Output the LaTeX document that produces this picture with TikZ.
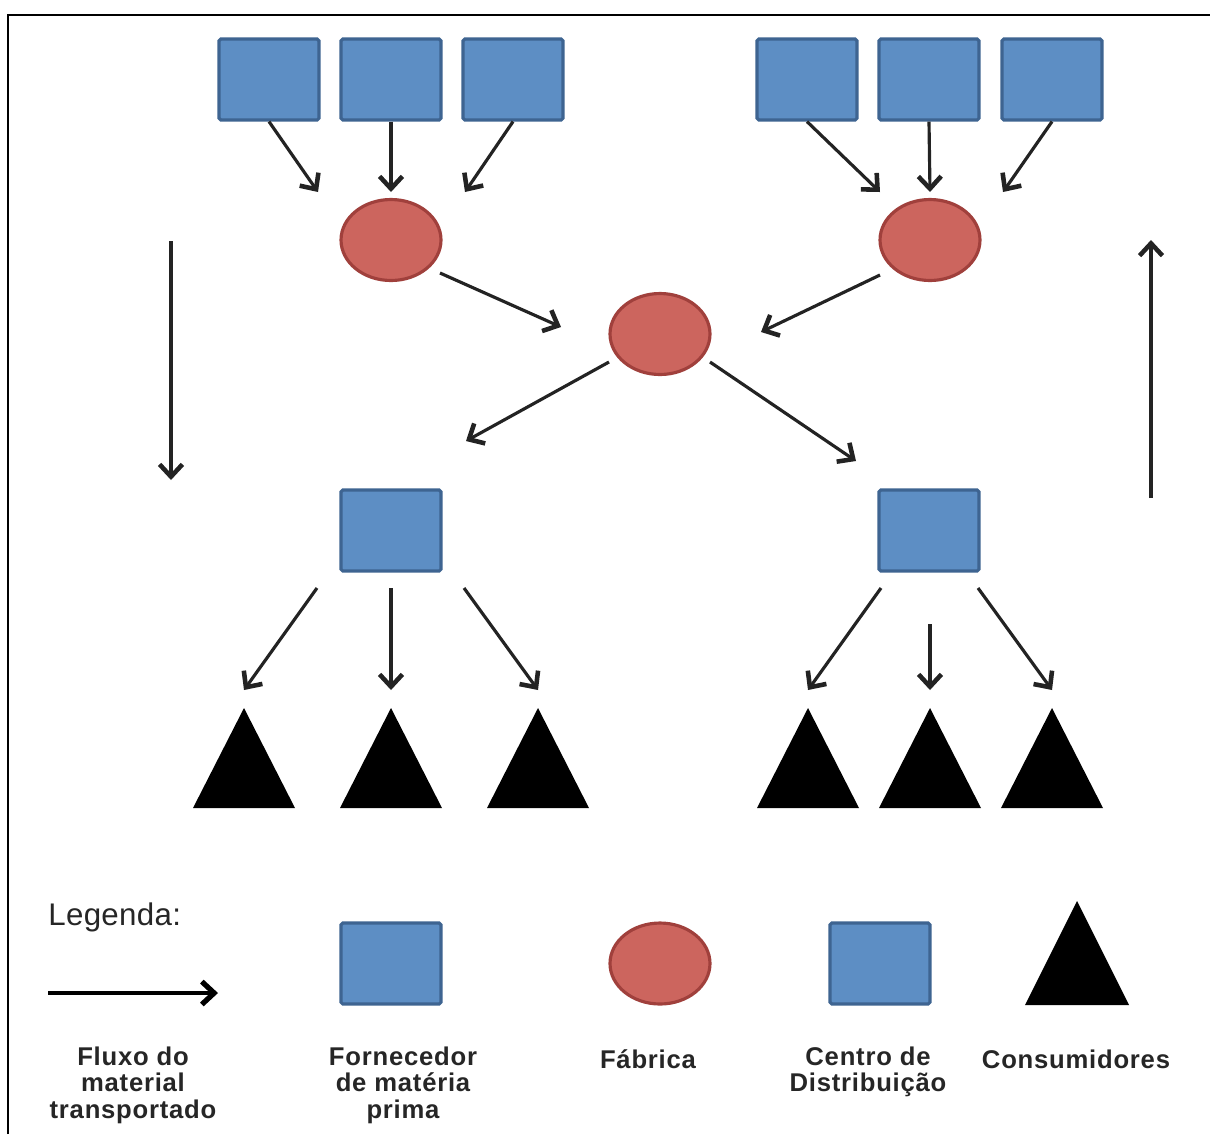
\documentclass[tikz,border=0pt]{standalone}
\usepackage{fontspec}
\setmainfont{Liberation Sans}
\usetikzlibrary{arrows.meta,shapes.geometric}
\definecolor{boxfill}{RGB}{93,142,196}
\definecolor{boxline}{RGB}{62,100,145}
\definecolor{plantfill}{RGB}{204,101,94}
\definecolor{plantline}{RGB}{160,64,60}
\definecolor{flow}{RGB}{35,35,35}
\begin{document}
\begin{tikzpicture}[x=0.02cm,y=-0.02cm,
  supplier/.style={draw=boxline,fill=boxfill,line width=1.8pt,rounded corners=1pt,
    minimum width=2.0cm,minimum height=1.62cm,inner sep=0pt},
  plant/.style={ellipse,draw=plantline,fill=plantfill,line width=1.8pt,
    minimum width=2.0cm,minimum height=1.62cm,inner sep=0pt},
  flowarrow/.style={draw=flow,line width=1.8pt,
    -{Straight Barb[length=7pt,width=13pt,line width=2.6pt]}},
  legtext/.style={font=\bfseries\fontsize{14.6}{15}\selectfont\addfontfeatures{LetterSpace=3},
    align=center,text=black!85}]
\useasboundingbox (0,0) rectangle (1210,1134);
% frame
\draw[line width=1.1pt] (8,1134) -- (8,15) -- (1210,15);

% raw material suppliers
\node[supplier] (s1) at (269,79.5) {};
\node[supplier] (s2) at (391,79.5) {};
\node[supplier] (s3) at (513,79.5) {};
\node[supplier] (s4) at (807,79.5) {};
\node[supplier] (s5) at (929,79.5) {};
\node[supplier] (s6) at (1052,79.5) {};

% plants
\node[plant] (p1) at (391,240) {};
\node[plant] (p2) at (930,240) {};
\node[plant] (p3) at (660,334) {};

% distribution centres
\node[supplier] (d1) at (391,530.5) {};
\node[supplier] (d2) at (929,530.5) {};

% consumers
\foreach \i/\cx in {1/244,2/391,3/538,4/808,5/930,6/1052}{
  \fill[black] (\cx-51,808) -- (\cx,708) -- (\cx+51,808) -- cycle;
  \coordinate (c\i) at (\cx,690);
}

% arrow ends
\coordinate (a1) at (318,192);
\coordinate (a2) at (391,192);
\coordinate (a3) at (465,192);
\coordinate (a4) at (880,192);
\coordinate (a5) at (930,192);
\coordinate (a6) at (1003,192);
\coordinate (p1o) at (440,273);
\coordinate (p1i) at (561,327);
\coordinate (p2o) at (880,275);
\coordinate (p2i) at (761,332);
\coordinate (p3l) at (609,362);
\coordinate (p3r) at (710,362);
\coordinate (d1i) at (466,441);
\coordinate (d2i) at (856,461);
\coordinate (d1a) at (317,588);
\coordinate (d1b) at (391,588);
\coordinate (d1c) at (464,588);
\coordinate (d2a) at (881,588);
\coordinate (d2b) at (930,624);
\coordinate (d2c) at (978,588);
\coordinate (downtop) at (171,241);
\coordinate (downbot) at (171,480);
\coordinate (upbot) at (1151,498);
\coordinate (uptop) at (1151,240);

% flows
\draw[flowarrow] (s1.south) -- (a1);
\draw[flowarrow] (s2.south) -- (a2);
\draw[flowarrow] (s3.south) -- (a3);
\draw[flowarrow] (s4.south) -- (a4);
\draw[flowarrow] (s5.south) -- (a5);
\draw[flowarrow] (s6.south) -- (a6);
\draw[flowarrow] (p1o) -- (p1i);
\draw[flowarrow] (p2o) -- (p2i);
\draw[flowarrow] (p3l) -- (d1i);
\draw[flowarrow] (p3r) -- (d2i);
\draw[flowarrow] (d1a) -- (c1);
\draw[flowarrow] (d1b) -- (c2);
\draw[flowarrow] (d1c) -- (c3);
\draw[flowarrow] (d2a) -- (c4);
\draw[flowarrow] (d2b) -- (c5);
\draw[flowarrow] (d2c) -- (c6);
\draw[flowarrow] (downtop) -- (downbot);
\draw[flowarrow] (upbot) -- (uptop);

% legend
\node[anchor=west,inner sep=0pt,font=\fontsize{17.8}{19}\selectfont\addfontfeatures{LetterSpace=1},text=black!85] (legtitle) at (48,917) {Legenda:};
\coordinate (legfrom) at (48,993);
\coordinate (legto) at (218,993);
\draw[draw=black,line width=2.8pt,-{Straight Barb[length=7pt,width=13pt,line width=3pt]}] (legfrom) -- (legto);
\node[supplier] (legsup) at (391,963.5) {};
\node[plant] (legplant) at (660,963.5) {};
\node[supplier] (legdc) at (880,963.5) {};
\fill[black] (1025,1005) -- (1077,901) -- (1129,1005) -- cycle;

\node[legtext] (l1) at (133,1085) {Fluxo do\\material\\transportado};
\node[legtext] (l2) at (403,1085) {Fornecedor\\de matéria\\prima};
\node[legtext] (l3) at (648,1059) {Fábrica};
\node[legtext] (l4) at (868,1072) {Centro de\\Distribuição};
\node[legtext] (l5) at (1076,1059) {Consumidores};
\end{tikzpicture}
\end{document}
